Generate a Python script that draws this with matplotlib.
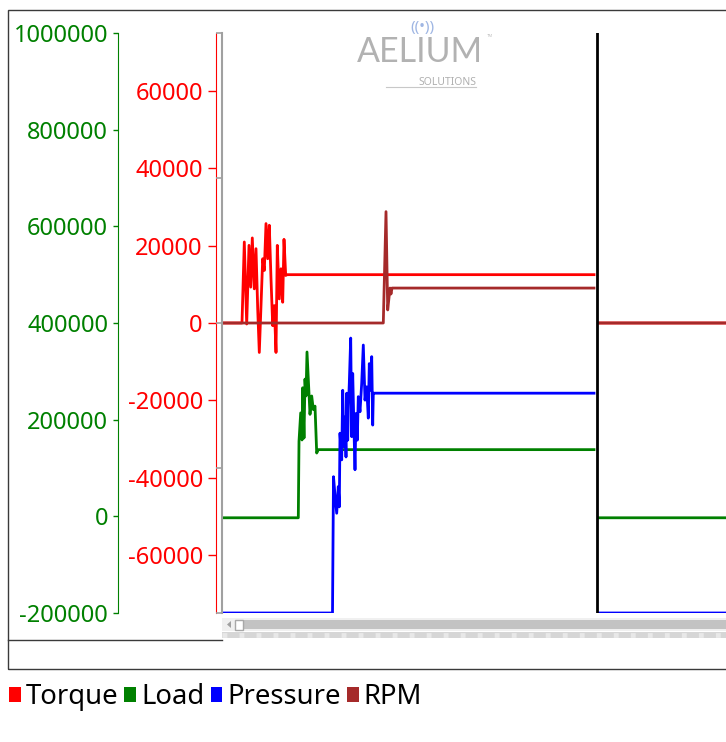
import numpy as np
import matplotlib
matplotlib.use("Agg")
import matplotlib.pyplot as plt
from matplotlib.patches import Rectangle, Patch, Polygon
from matplotlib.lines import Line2D

plt.rcParams['font.family'] = ['Noto Sans', 'DejaVu Sans']

nan = np.nan

# ---------------- data ----------------
torque_t = [0, 20, 22.3, 24.7, 27, 28.7, 30.3, 32.3, 34, 35.7, 37.3, 39, 40.7, 42.3, 44,
            45.7, 47.3, 49, 50.7, 52.3, 54, 55.3, 57.3, 59, 60.7, 62, 63.7, 65, 372, nan, 377, 504]
torque_v = [0, 0, 20950, -260, 20080, 9270, 22000, 8830, 19220, 3640, -7620, 4500, 16620, 13590, 25710,
            16620, 25280, 11430, -690, 4500, -7620, 20080, 6230, 14030, 5370, 21640, 12290, 12500, 12500, nan, 0, 0]

load_t = [0, 76.3, 77, 78.7, 80, 80.7, 82, 83, 84, 85, 88, 89.7, 91.3, 93, 94.7, 96.3, 372, nan, 377, 504]
load_v = [-3000, -3000, 155000, 214000, 158000, 266000, 162000, 284000, 249000, 340000, 211000, 249000,
          221000, 228000, 131000, 138000, 138000, nan, -3000, -3000]

pressure_t = [0, 110.5, 111.5, 113, 114.7, 116.3, 117.3, 118, 119.7, 120.7, 122, 123, 124, 124.7, 125.7,
              126.3, 127.3, 128.7, 129.7, 130.7, 132, 133, 134, 135.3, 136.3, 138, 139.7, 141.3, 143,
              144.7, 146.3, 147.3, 148.7, 149.7, 150.7, 151.3, 153, 372, nan, 377, 504]
pressure_v = [0, 0, 235, 203, 172, 218, 183, 310, 264, 384, 287, 338, 269, 379, 298,
              350, 396, 474, 304, 413, 315, 247, 344, 298, 373, 347, 396, 462, 367,
              390, 336, 430, 384, 442, 324, 379, 379, 379, nan, 0, 0]

rpm_t = [0, 161.3, 164, 165.7, 168, 169, 170, 372, nan, 377, 504]
rpm_v = [0, 0, 768, 90, 241, 200, 241, 241, nan, 0, 0]

gap_marker_t = 375

series_names = ["Torque", "Load", "Pressure", "RPM"]
series_colors = ["#ff0000", "#008000", "#0000ff", "#a52a2a"]

torque_ticks = [-60000, -40000, -20000, 0, 20000, 40000, 60000]
load_ticks = [-200000, 0, 200000, 400000, 600000, 800000, 1000000]
rpm_ticks = [-2000, -1000, 0, 1000, 2000]

# ---------------- figure ----------------
W, H = 726, 742
fig = plt.figure(figsize=(W / 100, H / 100), dpi=100)
fig.patch.set_facecolor('white')

def fx(x):
    return x / W

def fy(y):
    return 1 - y / H

rect = [fx(222), fy(613), fx(726) - fx(222), fy(33) - fy(613)]

ax_t = fig.add_axes(rect)
ax_l = fig.add_axes(rect, sharex=ax_t)
ax_p = fig.add_axes(rect, sharex=ax_t)
ax_r = fig.add_axes(rect, sharex=ax_t)

for a in (ax_t, ax_l, ax_p, ax_r):
    a.patch.set_visible(False)
    for s in a.spines.values():
        s.set_visible(False)
    a.xaxis.set_visible(False)
    a.set_yticks([])
ax_t.patch.set_visible(True)
ax_t.patch.set_facecolor('white')
ax_t.set_xlim(0, 504)

lw = 2.0
ax_t.plot(torque_t, torque_v, color=series_colors[0], lw=lw)
ax_l.plot(load_t, load_v, color=series_colors[1], lw=lw)
ax_p.plot(pressure_t, pressure_v, color=series_colors[2], lw=lw)
ax_r.plot(rpm_t, rpm_v, color=series_colors[3], lw=lw)
ax_r.axvline(gap_marker_t, color='black', lw=2.0)

# torque axis (red)
ax_t.set_ylim(-75000, 75000)
ax_t.spines['left'].set_visible(True)
ax_t.spines['left'].set_position(('outward', 4.3))
ax_t.spines['left'].set_color('#ff0000')
ax_t.set_yticks(torque_ticks)
ax_t.set_yticklabels([str(v) for v in torque_ticks])
ax_t.tick_params(axis='y', colors='#ff0000', labelsize=17, length=5.5, width=1, pad=4)

# load axis (green)
ax_l.set_ylim(-200000, 1000000)
ax_l.spines['left'].set_visible(True)
ax_l.spines['left'].set_position(('outward', 74.7))
ax_l.spines['left'].set_color('#008000')
ax_l.set_yticks(load_ticks)
ax_l.set_yticklabels([str(v) for v in load_ticks])
ax_l.tick_params(axis='y', colors='#008000', labelsize=17, length=3.6, width=1, pad=3.6)

# pressure axis hidden
ax_p.set_ylim(0, 1000)

# rpm axis (gray, no labels)
ax_r.set_ylim(-2000, 2000)
ax_r.spines['left'].set_visible(True)
ax_r.spines['left'].set_color('#a0a0a0')
ax_r.spines['left'].set_linewidth(1.5)
ax_r.set_yticks(rpm_ticks)
ax_r.set_yticklabels([])
ax_r.tick_params(axis='y', colors='#a0a0a0', length=4.3, width=1.2)

# ---------------- frame & scrollbar decorations ----------------
fig.add_artist(Rectangle((fx(8), fy(669)), fx(740) - fx(8), fy(10) - fy(669),
                         transform=fig.transFigure, fill=False, ec='#3a3a3a', lw=1.0))
fig.add_artist(Line2D([fx(8), fx(222)], [fy(639.5), fy(639.5)], transform=fig.transFigure,
                      color='#3a3a3a', lw=1.0))
# scrollbar
fig.add_artist(Rectangle((fx(222), fy(631)), fx(726) - fx(222), fy(618) - fy(631),
                         transform=fig.transFigure, fc='#f0f0f0', ec='none'))
fig.add_artist(Rectangle((fx(243), fy(629)), fx(726) - fx(243), fy(620) - fy(629),
                         transform=fig.transFigure, fc='#c3c3c3', ec='none'))
fig.add_artist(Rectangle((fx(235), fy(629.5)), fx(243) - fx(235), fy(620) - fy(629.5),
                         transform=fig.transFigure, fc='white', ec='#a8a8a8', lw=1.0))
fig.add_artist(Polygon([[fx(227), fy(624.5)], [fx(231), fy(621)], [fx(231), fy(628)]],
                       closed=True, transform=fig.transFigure, fc='#a0a0a0', ec='none'))
fig.add_artist(Rectangle((fx(222), fy(638)), fx(726) - fx(222), fy(632) - fy(638),
                         transform=fig.transFigure, fc='#d6d6d6', ec='none'))
fig.add_artist(Line2D([fx(222), fx(726)], [fy(635), fy(635)], transform=fig.transFigure,
                      color='#e8e8e8', lw=3.5, dashes=(1, 2.5)))

# ---------------- logo ----------------
fig.text(fx(357), fy(62), "AELIUM", fontsize=24.5, color='#b2b2b2', fontweight='normal',
         family=['Lato', 'DejaVu Sans'], ha='left', va='baseline')
fig.text(fx(487), fy(37), "TM", fontsize=3, color='#bdbdbd', ha='left', va='baseline')
fig.text(fx(476), fy(85), "SOLUTIONS", fontsize=7.5, color='#b0b0b0', ha='right', va='baseline')
fig.add_artist(Line2D([fx(386), fx(476)], [fy(87), fy(87)], transform=fig.transFigure,
                      color='#c8c8c8', lw=0.8))
fig.text(fx(422), fy(27), "((•))", fontsize=11, color='#9fb6e3', ha='center', va='center',
         fontweight='bold')

# ---------------- legend ----------------
handles = [Patch(facecolor=c, edgecolor='none', label=n) for n, c in zip(series_names, series_colors)]
fig.legend(handles=handles, loc='center left', bbox_to_anchor=(fx(9), fy(697)), ncol=4,
           frameon=False, fontsize=19.8, handlelength=0.43, handleheight=0.46,
           handletextpad=0.18, columnspacing=0.22, borderpad=0, borderaxespad=0)

fig.savefig("out.png", dpi=100, facecolor='white')
